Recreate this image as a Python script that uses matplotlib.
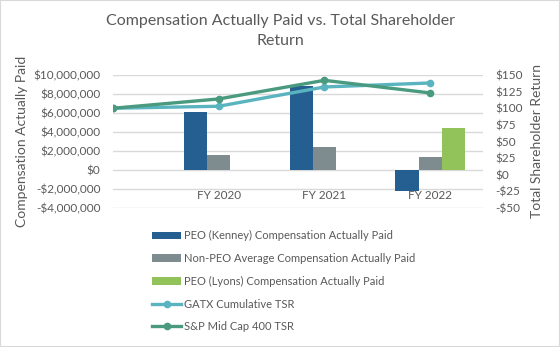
import matplotlib
matplotlib.use("Agg")
import matplotlib.pyplot as plt
from matplotlib.patches import Rectangle
from matplotlib.ticker import FuncFormatter

# data
categories = ["FY 2020", "FY 2021", "FY 2022"]
kenney_cap = [6.1e6, 8.8e6, -2.2e6]
non_peo_cap = [1.6e6, 2.4e6, 1.4e6]
lyons_cap = [0, 0, 4.4e6]
# TSR points: baseline (start) + three fiscal years
tsr_labels = ["", "FY 2020", "FY 2021", "FY 2022"]
gatx_tsr = [100, 103, 132, 138]
sp400_tsr = [100, 114, 142, 123]

C_KENNEY = "#255E91"
C_NONPEO = "#7E8B8F"
C_LYONS = "#92C35B"
C_GATX = "#5AB4C0"
C_SP = "#4A9A80"
TXT = "#595959"

plt.rcParams["font.family"] = ["Lato", "DejaVu Sans"]

fig = plt.figure(figsize=(5.6, 3.47), dpi=100)
fig.patches.append(Rectangle((0, 0), 1, 1, transform=fig.transFigure,
                             fill=False, edgecolor="#D9D9D9", linewidth=1.5))

ax1 = fig.add_axes([113 / 560, 1 - 208 / 347, 370 / 560, 133 / 347])
ax2 = ax1.twinx()

x = [1, 2, 3]
w = 0.22
b1 = ax1.bar([i - w for i in x], kenney_cap, w, color=C_KENNEY,
             label="PEO (Kenney) Compensation Actually Paid", zorder=2)
b2 = ax1.bar(x, non_peo_cap, w, color=C_NONPEO,
             label="Non-PEO Average Compensation Actually Paid", zorder=2)
b3 = ax1.bar([i + w for i in x], lyons_cap, w, color=C_LYONS,
             label="PEO (Lyons) Compensation Actually Paid", zorder=2)

xl = list(range(len(tsr_labels)))
l1, = ax2.plot(xl, gatx_tsr, color=C_GATX, lw=2.4, marker="o", ms=4.5,
               label="GATX Cumulative TSR")
l2, = ax2.plot(xl, sp400_tsr, color=C_SP, lw=2.4, marker="o", ms=4.5,
               label="S&P Mid Cap 400 TSR")

ax1.set_xlim(0, 3.5)
ax1.set_ylim(-4e6, 10e6)
ax1.set_yticks(range(-4000000, 10000001, 2000000))
ax2.set_ylim(-50, 150)
ax2.set_yticks(range(-50, 151, 25))


def money(v, pos):
    if v < 0:
        return "-${:,.0f}".format(-v)
    return "${:,.0f}".format(v)


ax1.yaxis.set_major_formatter(FuncFormatter(money))
ax2.yaxis.set_major_formatter(FuncFormatter(money))

ax1.set_xticks(x)
ax1.set_xticklabels(categories)
ax1.tick_params(axis="x", length=0, pad=-13, labelsize=8.5, labelcolor=TXT)
ax1.tick_params(axis="y", length=0, pad=9, labelsize=8.5, labelcolor=TXT)
ax2.tick_params(axis="y", length=0, pad=9, labelsize=8.5, labelcolor=TXT)

ax1.grid(axis="y", color="#D9D9D9", lw=1, zorder=0)
ax1.set_axisbelow(True)
for ax in (ax1, ax2):
    for s in ax.spines.values():
        s.set_visible(False)

ax1.set_ylabel("Compensation Actually Paid", fontsize=10, color=TXT, labelpad=4)
ax2.set_ylabel("Total Shareholder Return", fontsize=10, color=TXT, labelpad=6)

fig.suptitle("Compensation Actually Paid vs. Total Shareholder\nReturn",
             y=0.96, fontsize=11.5, color=TXT, linespacing=1.6)

fig.legend([b1, b2, b3, l1, l2], [h.get_label() for h in (b1, b2, b3, l1, l2)],
           loc="upper left", bbox_to_anchor=(148 / 560, 1 - 226 / 347),
           frameon=False, fontsize=8, labelcolor=TXT, handlelength=2.6,
           handletextpad=0.2, labelspacing=1.05, borderaxespad=0)

fig.savefig("out.png", dpi=100)
